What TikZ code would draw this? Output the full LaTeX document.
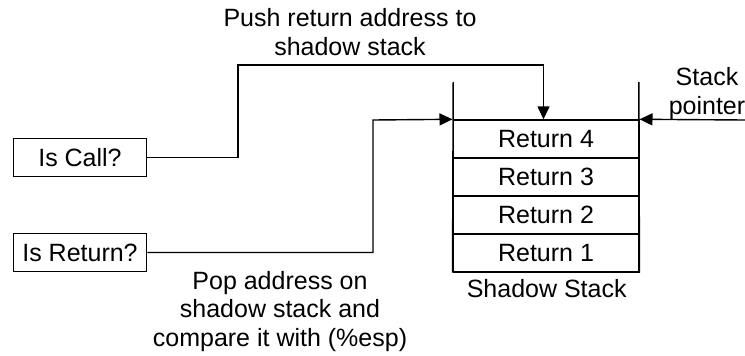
\documentclass[tikz,border=0pt]{standalone}
\usepackage{fontspec}
\setmainfont{Liberation Sans}
\usetikzlibrary{arrows.meta}
\begin{document}
\begin{tikzpicture}[x=1pt,y=-1pt,
  line width=1.4pt,
  txt/.style={font=\fontsize{25}{28.5}\selectfont, inner sep=0pt, align=center},
  cell/.style={draw, minimum width=185.6pt, minimum height=38pt, inner sep=0pt,
    font=\fontsize{25}{28.5}\selectfont},
  testbox/.style={draw, minimum width=133.4pt, minimum height=38.4pt, inner sep=0pt,
    font=\fontsize{25}{28.5}\selectfont},
  arr/.style={-{Triangle[length=13pt,width=12pt]}}]
  \useasboundingbox (0,0) rectangle (745,356);

  % condition boxes
  \node[testbox] (call) at (80,157.5) {Is Call?};
  \node[testbox] (ret) at (80,252.5) {Is Return?};

  % shadow stack cells
  \node[cell] (r4) at (546,139) {Return 4};
  \node[cell] (r3) at (546,177) {Return 3};
  \node[cell] (r2) at (546,215) {Return 2};
  \node[cell] (r1) at (546,253) {Return 1};

  % open-top side walls of the stack
  \coordinate (wl) at (453.2,82);
  \coordinate (wr) at (638.8,82);
  \draw (wl) -- (r1.south west);
  \draw (wr) -- (r1.south east);

  % labels (base anchor sits on the last line)
  \node[txt, anchor=base] (pushlbl) at (350,55) {Push return address to\\shadow stack};
  \node[txt, anchor=base] (splbl) at (707,114) {Stack\\pointer};
  \node[txt, anchor=base] (poplbl) at (280,346) {Pop address on\\shadow stack and\\compare it with (\%esp)};
  \node[txt, anchor=base] (sslbl) at (546.7,297) {Shadow Stack};

  % connectors
  \coordinate (pushtop) at (238,65);
  \coordinate (popx) at (373,120);
  \coordinate (spin) at (745,120);
  \draw[arr] (call.east) -| (pushtop) -| ([xshift=-2.5pt]r4.north);
  \draw[arr] (ret.east) -| (popx) -- (r4.north west);
  \draw[arr] (spin) -- (r4.north east);
\end{tikzpicture}
\end{document}
